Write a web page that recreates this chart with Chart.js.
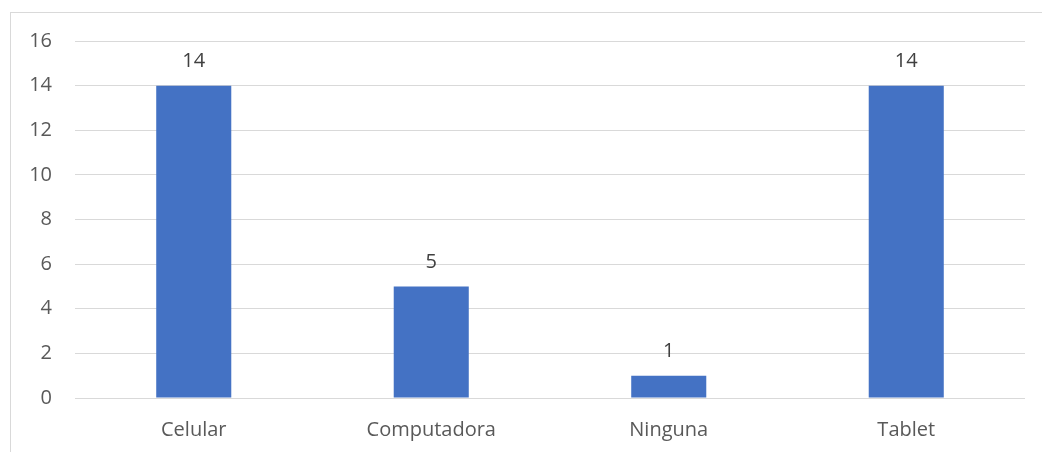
<!DOCTYPE html>
<html>
<head>
<meta charset="utf-8">
<script src="https://cdn.jsdelivr.net/npm/chart.js@4/dist/chart.umd.min.js"></script>
<style>
  html, body { margin: 0; padding: 0; background: #fff; }
  #wrap { width: 1042px; height: 452px; position: relative; }
</style>
</head>
<body>
<div id="wrap"><canvas id="chart"></canvas></div>
<script>
const categories = ["Celular", "Computadora", "Ninguna", "Tablet"];
const counts = [14, 5, 1, 14];
const yTicks = [0, 2, 4, 6, 8, 10, 12, 14, 16];

const FONT = "'Open Sans', 'Noto Sans', sans-serif";

// outer frame of the chart box (left and top edges are visible)
const frame = {
  id: "frame",
  beforeDraw(chart) {
    const ctx = chart.ctx;
    ctx.save();
    ctx.strokeStyle = "#d9d9d9";
    ctx.lineWidth = 1;
    ctx.strokeRect(10.5, 12.5, chart.width + 20, chart.height + 20);
    ctx.restore();
  },
};

// value printed above each bar
const valueLabels = {
  id: "valueLabels",
  afterDatasetsDraw(chart) {
    const ctx = chart.ctx;
    const meta = chart.getDatasetMeta(0);
    ctx.save();
    ctx.fillStyle = "#404040";
    ctx.font = "20px " + FONT;
    ctx.textAlign = "center";
    ctx.textBaseline = "middle";
    meta.data.forEach((bar, i) => {
      ctx.fillText(String(counts[i]), bar.x, bar.y - 24);
    });
    ctx.restore();
  },
};

new Chart(document.getElementById("chart"), {
  type: "bar",
  data: {
    labels: categories,
    datasets: [{
      data: counts,
      backgroundColor: "#4472c4",
      borderWidth: 0,
      categoryPercentage: 0.316,
      barPercentage: 1,
    }],
  },
  options: {
    responsive: true,
    maintainAspectRatio: false,
    animation: false,
    layout: { padding: { top: 41, right: 17, left: 0, bottom: 0 } },
    plugins: {
      legend: { display: false },
      tooltip: { enabled: false },
    },
    scales: {
      x: {
        grid: { display: false, drawTicks: false },
        border: { display: false },
        ticks: { color: "#595959", font: { family: FONT, size: 20 }, padding: 20 },
        afterFit(scale) { scale.height = 54; },
      },
      y: {
        min: 0,
        max: 16,
        afterBuildTicks(scale) { scale.ticks = yTicks.map((v) => ({ value: v })); },
        grid: { color: "#d9d9d9", lineWidth: 1, drawTicks: false },
        border: { display: false },
        ticks: { color: "#595959", font: { family: FONT, size: 20 }, padding: 23 },
        afterFit(scale) { scale.width = 75; },
      },
    },
  },
  plugins: [frame, valueLabels],
});
</script>
</body>
</html>
